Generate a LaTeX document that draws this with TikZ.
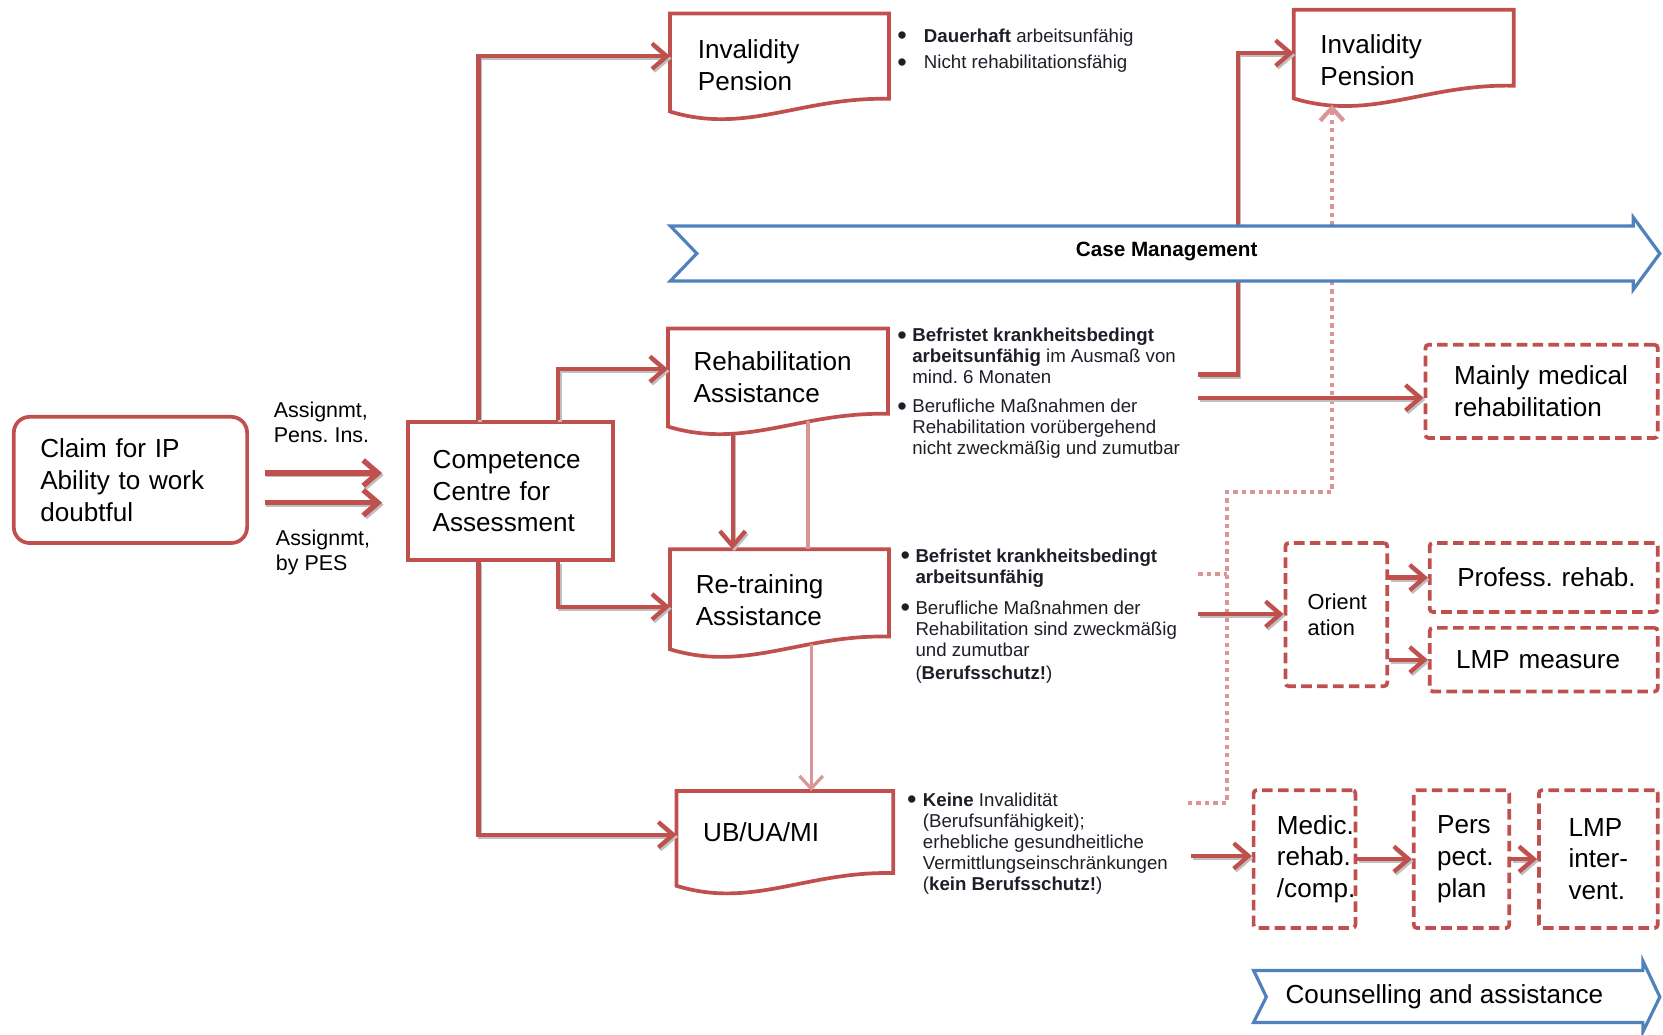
\documentclass[tikz,border=0pt]{standalone}
\usepackage{fontspec}
\setmainfont{Liberation Sans}
\frenchspacing
\usetikzlibrary{arrows.meta,calc,positioning}
\definecolor{boxred}{HTML}{C0504D}
\definecolor{dotpink}{HTML}{DA9694}
\definecolor{bandblue}{HTML}{4F81BD}
\definecolor{bultext}{HTML}{1E1E28}
\newcommand\bl[1]{\makebox[#1][l]{\raisebox{-0.14em}{\scalebox{1.45}{\textbullet}}}}
\newcommand\docframe[1]{%
  \draw[docline] (#1.south east) -- (#1.north east) -- (#1.north west)
    -- ($(#1.south west)+(0,12)$)
    .. controls ($(#1.south west)!0.35!(#1.south east)+(0,34)$)
    and ($(#1.south west)!0.6!(#1.south east)+(0,-2)$) .. (#1.south east) -- cycle;}

\begin{document}
\begin{tikzpicture}[x=1pt,y=-1pt,
  bigtext/.style={font=\fontsize{24.6}{30}\selectfont, align=left, inner sep=0},
  docline/.style={draw=boxred, line width=3.5},
  solidbox/.style={bigtext, docline},
  docbox/.style={bigtext},
  textdrop/.style={execute at begin node={\rule{0pt}{#1pt}}},
  dashbox/.style={bigtext, draw=boxred, line width=3.5, dash pattern=on 10pt off 5pt, rounded corners=3},
  smalltext/.style={font=\fontsize{20.2}{24}\selectfont, align=left, inner sep=0},
  bullets/.style={font=\fontsize{17.6}{20}\selectfont, text=bultext, align=left, inner sep=0, anchor=north west},
  band/.style={draw=bandblue, line width=3, fill=white},
  dropshade/.style={preaction={draw=black!25, line width=4, transform canvas={shift={(1.5,2)}}}},
  bartip/.style={-{Straight Barb[length=14pt,width=24pt]}},
  redarrow/.style={draw=boxred, line width=4, bartip, dropshade},
  pinkline/.style={draw=dotpink, line width=3},
  pinktip/.style={-{Straight Barb[length=12pt,width=22pt]}},
  dotline/.style={draw=dotpink, line width=4, dash pattern=on 4pt off 4pt}
]
\useasboundingbox (0,0) rectangle (1568,975);

\node[solidbox, rounded corners=15, minimum width=220, minimum height=119, text width=170] (claim) at (123,452.5) {Claim for IP\\Ability to work\\doubtful};
\node[solidbox, minimum width=193, minimum height=130, text width=147] (comp) at (481.5,463) {Competence\\Centre for\\Assessment};
\node[smalltext, anchor=west] (pens) at (258,398) {Assignmt,\\Pens. Ins.};
\node[smalltext, anchor=west] (pes) at (260,521) {Assignmt,\\by PES};

\node[docbox, textdrop=35, minimum width=206, minimum height=80, text width=154] (inv1) at (735,53) {Invalidity\\Pension};
\node[docbox, textdrop=41, minimum width=207, minimum height=70, text width=157] (inv2) at (1323.5,45) {Invalidity\\Pension};
\node[docbox, textdrop=29, minimum width=207, minimum height=80, text width=159] (rehab) at (733.5,350) {Rehabilitation\\Assistance};
\node[docbox, textdrop=31, minimum width=206, minimum height=82, text width=158] (retrain) at (735,559) {Re-training\\Assistance};
\node[docbox, minimum width=204, minimum height=77, text width=154] (ub) at (740,784.5) {UB/UA/MI};

\node[dashbox, minimum width=219, minimum height=88, text width=165] (mainmed) at (1453.5,369) {Mainly medical\\rehabilitation};
\node[dashbox, font=\fontsize{20.5}{25}\selectfont, minimum width=96, minimum height=135, text width=54] (orient) at (1260,579.5) {Orient\\ation};
\node[dashbox, minimum width=215, minimum height=65, text width=163] (prof) at (1455.5,544.5) {\mbox{Profess. rehab.}};
\node[dashbox, minimum width=215, minimum height=60, text width=165] (lmpm) at (1455.5,622) {LMP measure};
\node[dashbox, minimum width=96, minimum height=130, text width=52] (medic) at (1230,810) {Medic.\\rehab.\\/comp.};
\node[dashbox, minimum width=90, minimum height=130, text width=46] (pers) at (1378,810) {Pers\\pect.\\plan};
\node[dashbox, minimum width=112, minimum height=130, text width=56] (lmpi) at (1507,810) {LMP\\\mbox{inter-}\\vent.};

\node[bullets] (dauer) at (846,27) {\bl{25pt}\textbf{Dauerhaft} arbeitsunfähig\\[5pt]\bl{25pt}Nicht rehabilitationsfähig};
\node[bullets] (befr1) at (846,309) {\bl{14pt}\textbf{Befristet krankheitsbedingt}\\
  \hspace*{14pt}\textbf{arbeitsunfähig} im Ausmaß von\\
  \hspace*{14pt}mind. 6 Monaten\\[7pt]
  \bl{14pt}Berufliche Maßnahmen der\\
  \hspace*{14pt}Rehabilitation vorübergehend\\
  \hspace*{14pt}nicht zweckmäßig und zumutbar};
\node[bullets] (befr2) at (849,517) {\bl{14pt}\textbf{Befristet krankheitsbedingt}\\
  \hspace*{14pt}\textbf{arbeitsunfähig}\\[9pt]
  \bl{14pt}Berufliche Maßnahmen der\\
  \hspace*{14pt}Rehabilitation sind zweckmäßig\\
  \hspace*{14pt}und zumutbar\\[2pt]
  \hspace*{14pt}(\textbf{Berufsschutz!})};
\node[bullets] (keine) at (855,747) {\bl{15pt}\textbf{Keine} Invalidität\\
  \hspace*{15pt}(Berufsunfähigkeit);\\
  \hspace*{15pt}erhebliche gesundheitliche\\
  \hspace*{15pt}Vermittlungseinschränkungen\\
  \hspace*{15pt}(\textbf{kein Berufsschutz!})};

\docframe{inv1}
\docframe{inv2}
\docframe{rehab}
\docframe{retrain}
\docframe{ub}

\coordinate (rtop) at (1130,353);
\coordinate (rmed) at (1130,375);
\coordinate (rori) at (1130,579);
\coordinate (rmedic) at (1123,807);
\coordinate (dub) at (1120,757);
\coordinate (dre) at (1130,541);
\coordinate (djoin) at (1157,464);
\coordinate (dtip) at ($(inv2.south west)+(36,18)$);
\coordinate (rdown) at ($(rehab.south west)+(61,18)$);
\coordinate (pdown) at ($(rehab.south west)+(132,7)$);
\coordinate (pub) at ($(retrain.south west)+(133,7)$);

\draw[dotline] (dre) -- (dre -| djoin);
\draw[dotline, pinktip] (dub) -| (djoin) -| (dtip);
\draw[pinkline] (pdown) -- (pdown |- retrain.north);
\draw[pinkline, pinktip] (pub) -- (pub |- ub.north);

\draw[redarrow, line width=5] ([shift={(15,-6.5)}]claim.east) -- ([shift={(-23,-17)}]comp.west);
\draw[redarrow, line width=5] ([shift={(15,21.5)}]claim.east) -- ([shift={(-23,11)}]comp.west);
\draw[redarrow] ($(comp.north west)+(68,0)$) |- (inv1.west);
\draw[redarrow] ($(comp.north west)+(143,0)$) |- ($(rehab.west)+(0,-2)$);
\draw[redarrow] ($(comp.south west)+(143,0)$) |- ($(retrain.west)+(0,13)$);
\draw[redarrow] ($(comp.south west)+(68,0)$) |- ($(ub.west)+(0,2.5)$);
\draw[redarrow] (rdown) -- (rdown |- retrain.north);
\draw[redarrow] (rtop) -- ++(37,0) |- ($(inv2.west)+(0,5)$);
\draw[redarrow] (rmed) -- (rmed -| mainmed.west);
\draw[redarrow] (rori) -- (rori -| orient.west);
\draw[redarrow] (rmedic) -- (rmedic -| medic.west);
\draw[redarrow] (orient.east |- prof.west) -- (prof.west);
\draw[redarrow] (orient.east |- lmpm.west) -- (lmpm.west);
\draw[redarrow] (medic.east) -- (pers.west);
\draw[redarrow] (pers.east) -- (lmpi.west);

\draw[band] (632,213) -- (1540,213) -- (1540,205) -- (1565,239) -- (1540,273) -- (1540,265) -- (632,265) -- (657,239) -- cycle;
\node[font=\bfseries\fontsize{19.5}{22}\selectfont, inner sep=0] (casemgmt) at (1100,237) {Case Management};
\draw[band] (1182,915) -- (1549,915) -- (1549,906) -- (1565,940) -- (1549,973) -- (1549,964) -- (1182,964) -- (1194,940) -- cycle;
\node[bigtext, anchor=west] (counsel) at (1212,940) {Counselling and assistance};
\end{tikzpicture}
\end{document}
